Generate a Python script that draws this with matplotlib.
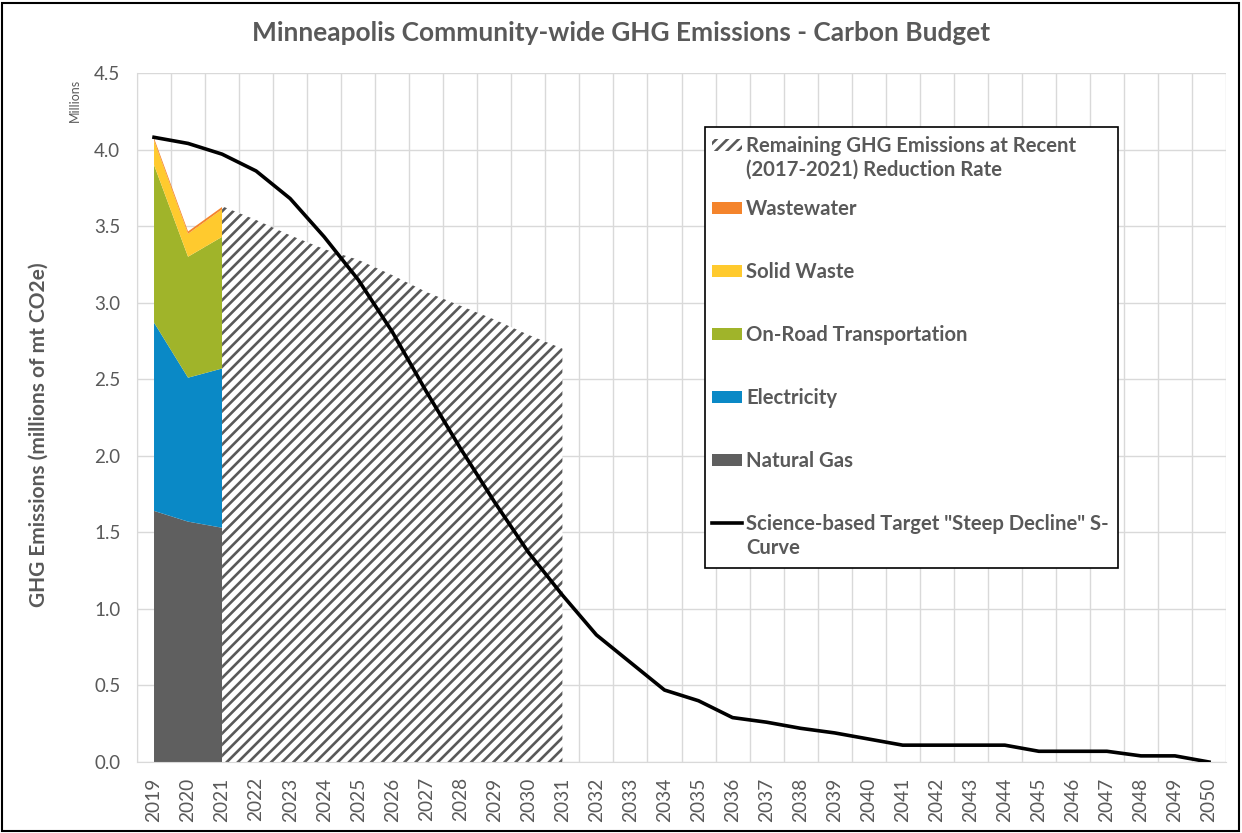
import matplotlib
matplotlib.use('Agg')
from matplotlib import pyplot as plt
from matplotlib.patches import Rectangle
import numpy as np

plt.rcParams['font.family'] = ['Lato', 'DejaVu Sans']
plt.rcParams['hatch.color'] = '#595959'
plt.rcParams['hatch.linewidth'] = 1.9

# datos
years = list(range(2019, 2051))
hist_years = [2019, 2020, 2021]
natural_gas = [1.64, 1.57, 1.53]
electricity = [1.23, 0.94, 1.04]
on_road = [1.03, 0.79, 0.86]
solid_waste = [0.16, 0.15, 0.18]
wastewater = [0.015, 0.015, 0.015]

remain_years = list(range(2021, 2032))
remaining = [3.63, 3.54, 3.44, 3.35, 3.28, 3.18, 3.07, 2.98, 2.89, 2.79, 2.70]

target = [4.08, 4.04, 3.97, 3.86, 3.68, 3.43, 3.15, 2.81, 2.42, 2.05, 1.70,
          1.37, 1.09, 0.83, 0.65, 0.47, 0.40, 0.29, 0.26, 0.22, 0.19, 0.15,
          0.11, 0.11, 0.11, 0.11, 0.07, 0.07, 0.07, 0.04, 0.04, 0.0]

colores = ['#5f5f5f', '#0a89c6', '#a0b42a', '#ffca2e', '#f4842c']
nombres = ['Natural Gas', 'Electricity', 'On-Road Transportation',
           'Solid Waste', 'Wastewater']
gris = '#595959'

W, H = 1242, 833


def px(x, y):
    # pixeles (origen arriba a la izquierda) -> fraccion de figura
    return x / W, 1 - y / H


fig = plt.figure(figsize=(12.42, 8.33), dpi=100)
ax = fig.add_axes([137 / W, 1 - 762 / H, (1226 - 137) / W, (762 - 73) / H])

# area apilada historica
ax.stackplot(hist_years, natural_gas, electricity, on_road, solid_waste,
             wastewater, colors=colores, linewidth=0)

# emisiones restantes (rayado)
ax.fill_between(remain_years, 0, remaining, facecolor='white',
                edgecolor=gris, hatch='///', linewidth=0)

# curva objetivo
ax.plot(years, target, color='black', linewidth=2.6, zorder=5)

ax.set_xlim(2018.5, 2050.5)
ax.set_ylim(0, 4.5)
ax.set_yticks(np.arange(0, 4.51, 0.5))
ax.set_yticklabels(['%.1f' % v for v in np.arange(0, 4.51, 0.5)],
                   fontsize=13.5, color=gris)
ax.set_xticks(years)
ax.set_xticklabels([str(y) for y in years], rotation=90, fontsize=13.8,
                   color=gris)
ax.set_xticks(np.arange(2018.5, 2051, 1), minor=True)
ax.tick_params(which='both', length=0)
ax.tick_params(axis='y', pad=12)
ax.tick_params(axis='x', pad=11)
ax.grid(which='minor', axis='x', color='#d9d9d9', linewidth=1)
ax.grid(which='major', axis='y', color='#d9d9d9', linewidth=1)
ax.set_axisbelow(True)
for s in ax.spines.values():
    s.set_color('#d9d9d9')
ax.spines['top'].set_visible(False)
ax.spines['right'].set_visible(False)

ax.set_ylabel('GHG Emissions (millions of mt CO2e)', fontsize=15,
              fontweight='bold', color=gris)
ax.yaxis.set_label_coords(-88 / 1089, 0.475)
fig.text(*px(75, 100), 'Millions', rotation=90, fontsize=9,
         color=gris, ha='center', va='center')
fig.text(*px(W / 2, 33),
         'Minneapolis Community-wide GHG Emissions - Carbon Budget',
         fontsize=18.9, fontweight='bold', color=gris, ha='center',
         va='center')

# leyenda (dibujada a mano, como en Excel)
x0, y0 = px(705, 568)
x1, y1 = px(1118, 127)
fig.patches.append(Rectangle((x0, y0), x1 - x0, y1 - y0,
                             transform=fig.transFigure, facecolor='white',
                             edgecolor='black', linewidth=1.2, zorder=10))

leg_items = [('hatch', None,
              'Remaining GHG Emissions at Recent\n(2017-2021) Reduction Rate')]
for c, n in zip(colores[::-1], nombres[::-1]):
    leg_items.append(('patch', c, n))
leg_items.append(('line', 'black',
                  'Science-based Target "Steep Decline" S-\nCurve'))

fila_y = [145, 208, 271, 334, 397, 460, 523]
for (tipo, c, txt), yy in zip(leg_items, fila_y):
    hx, hy = px(712, yy + 6)
    hw = 30 / W
    hh = 12 / H
    if tipo == 'hatch':
        fig.patches.append(Rectangle((hx, hy), hw, hh,
                                     transform=fig.transFigure,
                                     facecolor='white', edgecolor=gris,
                                     hatch='///', linewidth=0, zorder=11))
    elif tipo == 'patch':
        fig.patches.append(Rectangle((hx, hy), hw, hh,
                                     transform=fig.transFigure,
                                     facecolor=c, edgecolor='none',
                                     zorder=11))
    else:
        lx0, ly = px(712, yy)
        fig.add_artist(plt.Line2D([lx0, lx0 + hw], [ly, ly], color=c,
                                  linewidth=2.6, transform=fig.transFigure,
                                  zorder=11))
    tx, ty = px(746, yy - 9)
    fig.text(tx, ty, txt, fontsize=14.6, fontweight='bold', color=gris,
             ha='left', va='top', linespacing=1.25, zorder=12)

fig.patches.append(Rectangle((2 / W, 2 / H), 1237 / W, 828 / H,
                             transform=fig.transFigure, fill=False,
                             edgecolor='black', linewidth=1.5))

fig.savefig('out.png', dpi=100)
